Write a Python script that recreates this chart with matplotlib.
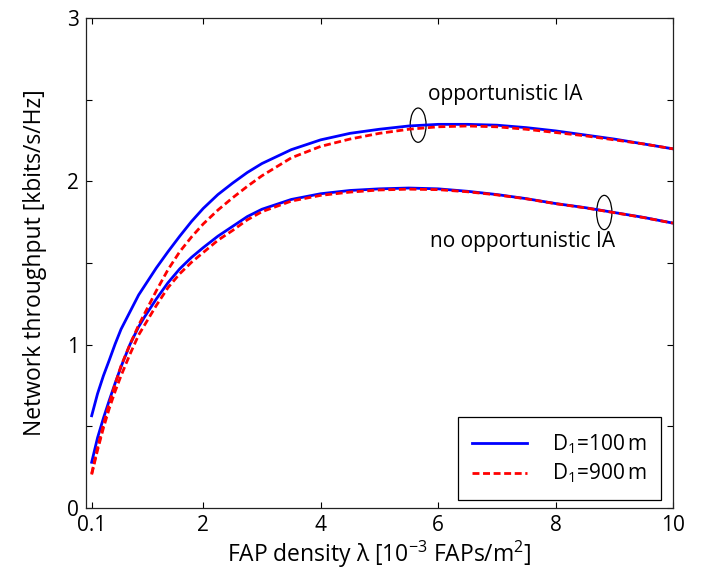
import matplotlib
matplotlib.use("Agg")
import matplotlib.pyplot as plt
from matplotlib.patches import Ellipse

plt.rcParams['font.family'] = ['Open Sans', 'DejaVu Sans']
plt.rcParams['mathtext.fontset'] = 'custom'
plt.rcParams['mathtext.rm'] = 'Open Sans'
plt.rcParams['mathtext.it'] = 'Open Sans:italic'

density = [0.1, 0.2, 0.3, 0.4, 0.5, 0.6, 0.75, 0.9, 1.0, 1.2, 1.4, 1.6, 1.8, 2.0,
           2.25, 2.5, 2.75, 3.0, 3.5, 4.0, 4.5, 5.0, 5.5, 6.0, 6.5, 7.0, 7.5, 8.0,
           8.5, 9.0, 9.5, 10.0]
opp_d100 = [0.565, 0.70, 0.81, 0.906, 1.005, 1.095, 1.20, 1.305, 1.36, 1.47, 1.57, 1.665,
            1.755, 1.835, 1.92, 1.99, 2.055, 2.11, 2.195, 2.255, 2.295, 2.32, 2.34, 2.35,
            2.35, 2.345, 2.33, 2.31, 2.285, 2.26, 2.23, 2.20]
opp_d900 = [0.21, 0.37, 0.51, 0.64, 0.76, 0.87, 1.00, 1.12, 1.19, 1.33, 1.46, 1.57,
            1.66, 1.74, 1.825, 1.90, 1.97, 2.035, 2.145, 2.215, 2.26, 2.295, 2.32, 2.335,
            2.34, 2.335, 2.32, 2.30, 2.28, 2.255, 2.23, 2.20]
noopp_d100 = [0.28, 0.43, 0.55, 0.66, 0.765, 0.865, 1.00, 1.11, 1.17, 1.28, 1.38, 1.465,
              1.535, 1.595, 1.665, 1.725, 1.785, 1.83, 1.89, 1.925, 1.945, 1.955, 1.96,
              1.955, 1.94, 1.92, 1.895, 1.865, 1.84, 1.81, 1.78, 1.745]
noopp_d900 = [0.205, 0.355, 0.49, 0.61, 0.715, 0.81, 0.94, 1.06, 1.12, 1.24, 1.35, 1.435,
              1.505, 1.565, 1.64, 1.70, 1.765, 1.815, 1.88, 1.915, 1.935, 1.948, 1.953,
              1.95, 1.937, 1.918, 1.894, 1.864, 1.839, 1.809, 1.779, 1.745]

xticks = [0.1, 2, 4, 6, 8, 10]
xticklabels = ['0.1', '2', '4', '6', '8', '10']
yticks = [0, 0.5, 1, 1.5, 2, 2.5, 3]
yticklabels = ['0', '', '1', '', '2', '', '3']

fig = plt.figure(figsize=(7.01, 5.70), dpi=100)
ax = fig.add_axes([0.1224, 0.1088, 0.8376, 0.8592])

dash = (2.5, 1.3)
l1, = ax.plot(density, opp_d100, color='#0000ff', lw=2.0, label='D$_1$=100\u2009m')
ax.plot(density, noopp_d100, color='#0000ff', lw=2.0)
l2, = ax.plot(density, opp_d900, color='#ff0000', lw=2.0, dashes=dash, label='D$_1$=900\u2009m')
ax.plot(density, noopp_d900, color='#ff0000', lw=2.0, dashes=dash)

ax.add_patch(Ellipse((5.66, 2.345), 0.27, 0.21, fill=False, edgecolor='k', lw=0.9))
ax.add_patch(Ellipse((8.83, 1.81), 0.26, 0.21, fill=False, edgecolor='k', lw=0.9))
ax.text(5.83, 2.53, 'opportunistic IA', fontsize=15, va='center', ha='left')
ax.text(5.86, 1.635, 'no opportunistic IA', fontsize=15, va='center', ha='left')

ax.set_xlim(0, 10)
ax.set_ylim(0, 3)
ax.set_xticks(xticks)
ax.set_xticklabels(xticklabels)
ax.set_yticks(yticks)
ax.set_yticklabels(yticklabels)
ax.tick_params(direction='in', length=4, width=0.8, top=True, right=True,
               labelsize=15)
ax.tick_params(axis='x', pad=5)
ax.tick_params(axis='y', pad=5)
for s in ax.spines.values():
    s.set_linewidth(0.9)
    s.set_color('#222222')

ax.set_xlabel('FAP density \u03bb [10$^{-3}$ FAPs/m$^2$]', fontsize=16.5, labelpad=2)
ax.set_ylabel('Network throughput [kbits/s/Hz]', fontsize=16.5, labelpad=14)

leg = ax.legend(handles=[l1, l2], loc='lower right', bbox_to_anchor=(0.9796, 0.0163),
                fontsize=15, fancybox=False, edgecolor='k', framealpha=1,
                borderaxespad=0, handlelength=2.6, borderpad=0.7,
                labelspacing=0.3, handletextpad=1.2)
leg.get_frame().set_linewidth(0.9)

fig.savefig('out.png', dpi=100)
